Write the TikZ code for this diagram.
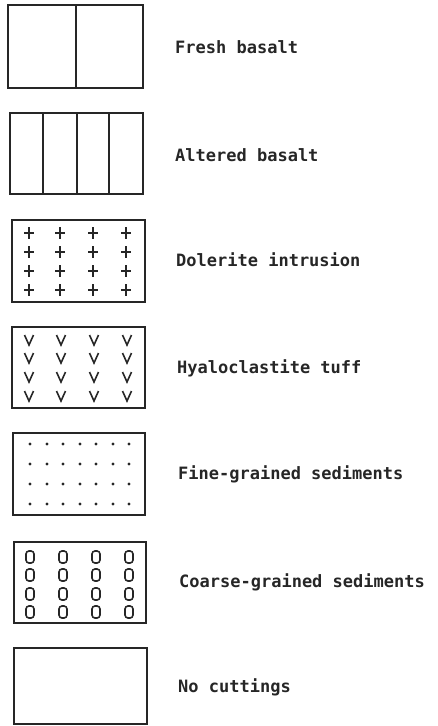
\documentclass[tikz,border=0pt]{standalone}
\usepackage{fontspec}
\setmonofont{DejaVu Sans Mono}
\begin{document}
\begin{tikzpicture}[x=1pt,y=-1pt,
  box/.style={draw=black!85, line width=1.6pt},
  sym/.style={draw=black!85, line width=1.6pt},
  lbl/.style={anchor=base west, inner sep=0pt, text=black!85, font=\ttfamily\bfseries\fontsize{17}{20}\selectfont}]
\useasboundingbox (0,0) rectangle (437,726);
% 1 Fresh basalt
\draw[box] (8,5) rectangle (143,88);
\draw[box] (76,5) -- (76,88);
\node[lbl] (t1) at (175,53) {Fresh basalt};
% 2 Altered basalt
\draw[box] (10,113) rectangle (143,194);
\foreach \x in {43,77,109} \draw[box] (\x,113) -- (\x,194);
\node[lbl] (t2) at (175,161) {Altered basalt};
% 3 Dolerite
\draw[box] (12,220) rectangle (145,302);
\foreach \x in {29,60,93,126} \foreach \y in {233,252,271,290}
  \draw[sym] (\x-5,\y) -- (\x+5,\y) (\x,\y-6) -- (\x,\y+6);
\node[lbl] (t3) at (176,266) {Dolerite intrusion};
% 4 Hyaloclastite
\draw[box] (12,327) rectangle (145,408);
\foreach \x in {29,61,94,127} \foreach \y in {340,358,377,396}
  \draw[sym] (\x-4.5,\y-5) -- (\x,\y+5) -- (\x+4.5,\y-5);
\node[lbl] (t4) at (177,373) {Hyaloclastite tuff};
% 5 Fine-grained
\draw[box] (13,433) rectangle (145,515);
\foreach \x in {30,47,63,80,96,113,129} \foreach \y in {444,464,484,504}
  \fill[black!85] (\x,\y) circle (1.7);
\node[lbl] (t5) at (178,479) {Fine-grained sediments};
% 6 Coarse-grained
\draw[box] (14,542) rectangle (146,623);
\foreach \x in {30,63,96,129} \foreach \y in {557,575,594,612}
  \draw[sym, rounded corners=3pt] (\x-4,\y-6) rectangle (\x+4,\y+6);
\node[lbl] (t6) at (179,587) {Coarse-grained sediments};
% 7 No cuttings
\draw[box] (14,648) rectangle (147,724);
\node[lbl] (t7) at (178,692) {No cuttings};
\end{tikzpicture}
\end{document}
